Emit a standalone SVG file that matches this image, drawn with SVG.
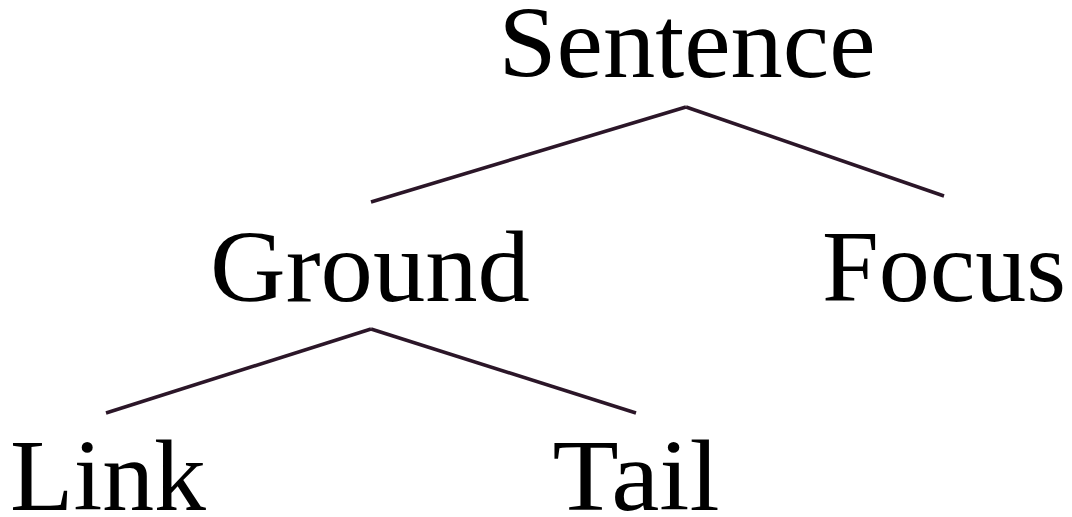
<svg xmlns="http://www.w3.org/2000/svg" width="1072" height="517" viewBox="0 0 1072 517">
<style>
.t{font-family:"Liberation Serif","Times New Roman",serif;font-size:102px;fill:#000;text-anchor:middle}
.e{stroke:#2b1628;stroke-width:3.5;fill:none;stroke-linecap:butt}
</style>
<rect width="1072" height="517" fill="#fff"/>
<g id="connectors">
<line class="e" x1="686" y1="107" x2="371" y2="202"/>
<line class="e" x1="686" y1="107" x2="944" y2="196"/>
<line class="e" x1="371" y1="329" x2="106" y2="413"/>
<line class="e" x1="371" y1="329" x2="636" y2="413"/>
</g>
<g id="sentence"><text class="t" x="687" y="77" textLength="377" lengthAdjust="spacingAndGlyphs">Sentence</text></g>
<g id="ground"><text class="t" x="370" y="301" textLength="320" lengthAdjust="spacingAndGlyphs">Ground</text></g>
<g id="focus"><text class="t" x="944" y="301" textLength="244" lengthAdjust="spacingAndGlyphs">Focus</text></g>
<g id="link"><text class="t" x="108" y="510" textLength="196" lengthAdjust="spacingAndGlyphs">Link</text></g>
<g id="tail"><text class="t" x="636" y="510" textLength="167" lengthAdjust="spacingAndGlyphs">Tail</text></g>
</svg>
